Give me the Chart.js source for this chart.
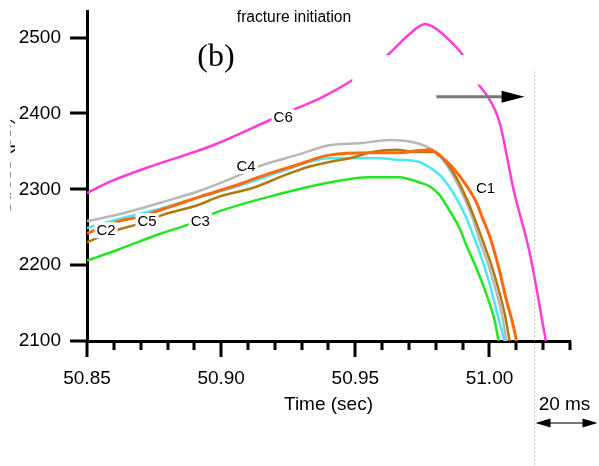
<!DOCTYPE html>
<html>
<head>
<meta charset="utf-8">
<title>Stress vs time, gauges C1-C6</title>
<script src="https://cdn.jsdelivr.net/npm/chart.js@4"></script>
<style>
  body { margin: 0; background: #fff; }
  #wrap { width: 599px; height: 466px; }
</style>
</head>
<body>
<div id="wrap"><canvas id="chart" width="599" height="466"></canvas></div>
<script>
// readings taken off the plot: time (sec) and stress for each gauge
const c1Time = [50.850, 50.862, 50.869, 50.876, 50.892, 50.907, 50.914, 50.929, 50.9403, 50.9563, 50.9653, 50.9776, 50.9813, 50.9862, 50.9914, 50.9951, 50.9974, 51.0000, 51.0022, 51.0037, 51.0063, 51.0086, 51.0101];
const c1Stress = [2242, 2258, 2263, 2271, 2290, 2307, 2316, 2333, 2345, 2348, 2348, 2352, 2345, 2329, 2305, 2283, 2262, 2239, 2213, 2193, 2154, 2124, 2100];

const c2Time = [50.850, 50.862, 50.877, 50.892, 50.907, 50.922, 50.9403, 50.9590, 50.9653, 50.9739, 50.9776, 50.9825, 50.9877, 50.9914, 50.9944, 50.9970, 51.0000, 51.0026, 51.0056];
const c2Stress = [2249, 2261, 2274, 2290, 2305, 2323, 2341, 2341, 2339, 2336, 2329, 2315, 2288, 2262, 2235, 2210, 2176, 2140, 2100];

const c3Time = [50.850, 50.862, 50.877, 50.889, 50.897, 50.922, 50.9403, 50.9552, 50.9664, 50.9739, 50.9776, 50.9813, 50.9851, 50.9888, 50.9914, 50.9955, 50.9996, 51.0019, 51.0034];
const c3Stress = [2206, 2221, 2241, 2255, 2268, 2294, 2309, 2316, 2316, 2309, 2304, 2293, 2272, 2249, 2226, 2193, 2154, 2127, 2100];

const c4Time = [50.850, 50.862, 50.877, 50.892, 50.905, 50.913, 50.929, 50.9403, 50.9526, 50.9627, 50.9728, 50.9787, 50.9832, 50.9869, 50.9907, 50.9937, 50.9963, 50.9996, 51.0026, 51.0049, 51.0063];
const c4Stress = [2258, 2267, 2282, 2298, 2316, 2329, 2346, 2358, 2361, 2365, 2361, 2352, 2336, 2315, 2288, 2262, 2233, 2200, 2164, 2130, 2100];

const c5Time = [50.850, 50.861, 50.869, 50.878, 50.892, 50.899, 50.912, 50.924, 50.933, 50.9403, 50.9478, 50.9563, 50.9653, 50.9728, 50.9795, 50.9840, 50.9877, 50.9914, 50.9944, 50.9974, 51.0007, 51.0037, 51.0060, 51.0075];
const c5Stress = [2230, 2246, 2254, 2266, 2280, 2290, 2302, 2319, 2330, 2336, 2341, 2349, 2352, 2349, 2349, 2335, 2315, 2288, 2262, 2233, 2200, 2164, 2130, 2100];

const c6Time = [50.850, 50.858, 50.872, 50.897, 50.918, 50.927, 50.937, 50.949, 50.962, 50.970, 50.976, 50.979, 50.984, 50.990, 50.996, 50.999, 51.002, 51.004, 51.009, 51.015, 51.021];
const c6Stress = [2295, 2309, 2328, 2358, 2391, 2405, 2420, 2444, 2477, 2504, 2518, 2514, 2500, 2477, 2438, 2424, 2405, 2385, 2299, 2216, 2100];

// axis ticks
const xTicks = [50.85, 50.86, 50.87, 50.88, 50.89, 50.90, 50.91, 50.92, 50.93, 50.94, 50.95, 50.96, 50.97, 50.98, 50.99, 51.00, 51.01, 51.02, 51.03];
const yTicks = [2100, 2200, 2300, 2400, 2500];

// curve name tags (placed on the curves)
const curveNames = ['C1', 'C2', 'C3', 'C4', 'C5', 'C6'];
const labelTime = [50.9985, 50.8571, 50.8922, 50.9093, 50.8724, 50.9231];
const labelStress = [2302, 2246, 2258, 2331, 2258, 2395];

// white patch over part of C6, fracture arrow and divider line
const maskTime = [50.9489, 51.0153];
const maskStress = [2438, 2477];
const arrowTime = [50.9802, 51.0131];
const arrowStress = 2422;
const dividerTime = 51.0166;
const dividerTop = 2455;

const FONT = "'Liberation Sans', Arial, sans-serif";
Chart.defaults.font.family = FONT;
Chart.defaults.color = '#000';

function pts(t, v) {
  return t.map((tt, i) => ({ x: tt, y: v[i] }));
}

function line(label, t, v, color, w) {
  return {
    label: label,
    data: pts(t, v),
    showLine: true,
    borderColor: color,
    backgroundColor: color,
    borderWidth: w,
    pointRadius: 0,
    cubicInterpolationMode: 'monotone',
    fill: false
  };
}

const isMajor = v => Math.abs(v * 20 - Math.round(v * 20)) < 1e-6;

function noPad(s) {
  s.paddingTop = 0;
  s.paddingBottom = 0;
  s.paddingLeft = 0;
  s.paddingRight = 0;
}

const overlay = {
  id: 'overlay',
  afterDatasetsDraw(chart) {
    const { ctx, scales: { x, y } } = chart;
    ctx.save();
    const mx0 = x.getPixelForValue(maskTime[0]), mx1 = x.getPixelForValue(maskTime[1]);
    const my0 = y.getPixelForValue(maskStress[1]), my1 = y.getPixelForValue(maskStress[0]);
    ctx.fillStyle = '#fff';
    ctx.fillRect(mx0, my0, mx1 - mx0, my1 - my0);

    ctx.font = '15px ' + FONT;
    ctx.textAlign = 'center';
    ctx.textBaseline = 'middle';
    curveNames.forEach((name, i) => {
      const px = x.getPixelForValue(labelTime[i]);
      const py = y.getPixelForValue(labelStress[i]);
      const w = ctx.measureText(name).width + 4;
      ctx.fillStyle = '#fff';
      ctx.fillRect(px - w / 2, py - 8, w, 16);
      ctx.fillStyle = '#000';
      ctx.fillText(name, px, py + 1);
    });
    ctx.restore();
  },
  afterDraw(chart) {
    const { ctx, scales: { x, y } } = chart;
    const axisY = y.getPixelForValue(2100);
    const axisX = x.getPixelForValue(50.85) - 1;
    ctx.save();
    // tick marks, outside
    ctx.strokeStyle = '#000';
    ctx.lineWidth = 3;
    ctx.beginPath();
    xTicks.forEach(v => {
      const px = Math.round(x.getPixelForValue(v));
      ctx.moveTo(px, axisY);
      ctx.lineTo(px, axisY + (isMajor(v) ? 16 : 9));
    });
    yTicks.forEach(v => {
      const py = Math.round(y.getPixelForValue(v));
      ctx.moveTo(axisX, py);
      ctx.lineTo(axisX - 16, py);
    });
    ctx.stroke();

    // dotted divider
    const dx = Math.round(x.getPixelForValue(dividerTime)) + 0.5;
    ctx.strokeStyle = '#aaa';
    ctx.lineWidth = 1;
    ctx.setLineDash([1, 3]);
    ctx.beginPath();
    ctx.moveTo(dx, y.getPixelForValue(dividerTop));
    ctx.lineTo(dx, chart.height);
    ctx.stroke();
    ctx.setLineDash([]);

    // fracture arrow
    const ax0 = x.getPixelForValue(arrowTime[0]);
    const ax1 = x.getPixelForValue(arrowTime[1]);
    const ay = y.getPixelForValue(arrowStress);
    ctx.strokeStyle = '#777';
    ctx.lineWidth = 3;
    ctx.beginPath();
    ctx.moveTo(ax0, ay);
    ctx.lineTo(ax1 - 20, ay);
    ctx.stroke();
    ctx.fillStyle = '#000';
    ctx.beginPath();
    ctx.moveTo(ax1, ay);
    ctx.lineTo(ax1 - 23, ay - 6);
    ctx.lineTo(ax1 - 23, ay + 6);
    ctx.closePath();
    ctx.fill();

    // 20 ms bracket
    const bx0 = dx + 1, bx1 = dx + 63, by = 423;
    ctx.strokeStyle = '#777';
    ctx.lineWidth = 2;
    ctx.beginPath();
    ctx.moveTo(bx0 + 10, by);
    ctx.lineTo(bx1 - 10, by);
    ctx.stroke();
    ctx.beginPath();
    ctx.moveTo(bx0, by);
    ctx.lineTo(bx0 + 15, by - 4.5);
    ctx.lineTo(bx0 + 15, by + 4.5);
    ctx.closePath();
    ctx.moveTo(bx1, by);
    ctx.lineTo(bx1 - 15, by - 4.5);
    ctx.lineTo(bx1 - 15, by + 4.5);
    ctx.closePath();
    ctx.fill();

    ctx.textAlign = 'center';
    ctx.textBaseline = 'middle';
    ctx.font = '19px ' + FONT;
    ctx.fillText('20 ms', (bx0 + bx1) / 2 - 2, 405);

    ctx.font = '15.6px ' + FONT;
    ctx.fillText('fracture initiation', 294, 18);

    ctx.font = "32px 'Liberation Serif', 'Times New Roman', serif";
    ctx.fillText('(b)', 216, 58);

    // y title, mostly cut off at the left edge
    ctx.beginPath();
    ctx.rect(10.5, 0, 12, chart.height);
    ctx.clip();
    ctx.translate(11, 166);
    ctx.rotate(-Math.PI / 2);
    ctx.textBaseline = 'alphabetic';
    ctx.font = '19px ' + FONT;
    ctx.fillText('Stress (psi)', 0, 0);
    ctx.restore();
  }
};

new Chart(document.getElementById('chart'), {
  type: 'scatter',
  data: {
    datasets: [
      line('C6', c6Time, c6Stress, '#ff3cd8', 2.5),
      line('C1', c1Time, c1Stress, '#ff6a10', 3),
      line('C5', c5Time, c5Stress, '#b3790f', 2.5),
      line('C2', c2Time, c2Stress, '#4de6f5', 2.5),
      line('C3', c3Time, c3Stress, '#22e622', 2.5),
      line('C4', c4Time, c4Stress, '#b8b8b8', 2.5)
    ]
  },
  options: {
    responsive: false,
    animation: false,
    devicePixelRatio: 1,
    layout: { padding: { top: 11, right: 29, left: 0, bottom: 0 } },
    plugins: { legend: { display: false }, tooltip: { enabled: false } },
    scales: {
      x: {
        type: 'linear',
        min: 50.85,
        max: 51.03,
        afterBuildTicks: s => { s.ticks = xTicks.map(v => ({ value: v })); },
        afterFit: s => { s.height = 125; noPad(s); },
        grid: { display: false, drawTicks: false },
        border: { display: true, color: '#000', width: 3 },
        ticks: {
          autoSkip: false,
          maxRotation: 0,
          minRotation: 0,
          padding: 26,
          font: { size: 19 },
          callback: v => isMajor(v) ? v.toFixed(2) : ''
        },
        title: {
          display: true,
          text: 'Time (sec)',
          font: { size: 19 },
          padding: { top: 0, bottom: 50 }
        }
      },
      y: {
        type: 'linear',
        min: 2100,
        max: 2535,
        afterBuildTicks: s => { s.ticks = yTicks.map(v => ({ value: v })); },
        afterFit: s => { s.width = 87; noPad(s); },
        grid: { display: false, drawTicks: false },
        border: { display: true, color: '#000', width: 3 },
        ticks: { padding: 26, font: { size: 19 }, callback: v => String(v) }
      }
    }
  },
  plugins: [overlay]
});
</script>
</body>
</html>
